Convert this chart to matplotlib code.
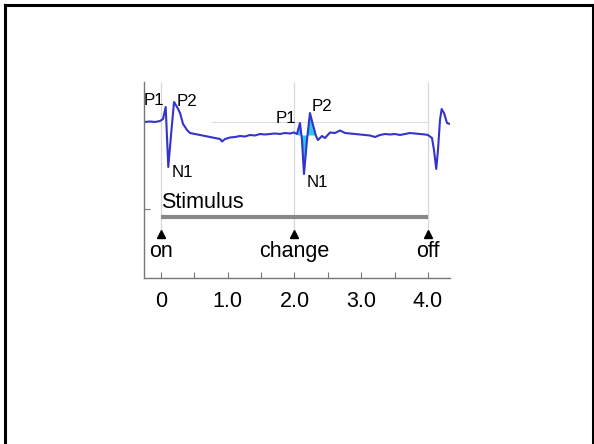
import matplotlib
matplotlib.use("Agg")
import matplotlib.pyplot as plt
import numpy as np
from matplotlib.lines import Line2D

plt.rcParams['font.family'] = ['Liberation Sans', 'DejaVu Sans']

# ---- data (time in s, amplitude in arbitrary units) ----
time_s = [-0.255, -0.165, -0.090, -0.015, 0.030, 0.070, 0.109, 0.150, 0.195, 0.240,
          0.285, 0.330, 0.390, 0.434, 0.509, 0.584, 0.659, 0.734, 0.809, 0.884,
          0.914, 0.959, 1.034, 1.109, 1.184, 1.258, 1.333, 1.408, 1.483, 1.558,
          1.633, 1.708, 1.783, 1.858, 1.933, 1.993, 2.037, 2.082, 2.112, 2.142,
          2.187, 2.232, 2.277, 2.322, 2.352, 2.412, 2.457, 2.532, 2.607, 2.682,
          2.757, 2.831, 2.906, 2.981, 3.056, 3.131, 3.206, 3.281, 3.356, 3.431,
          3.506, 3.581, 3.655, 3.730, 3.805, 3.880, 3.955, 4.000, 4.060, 4.090,
          4.124, 4.150, 4.180, 4.205, 4.240, 4.285, 4.330]
amplitude = [1.3, 1.35, 1.3, 1.4, 1.6, 2.8, -3.2, 0.0, 3.3, 2.8,
             2.2, 1.1, 0.5, 0.2, 0.1, 0.0, -0.1, -0.2, -0.3, -0.4,
             -0.65, -0.4, -0.25, -0.2, -0.1, -0.15, 0.0, -0.05, 0.1, 0.05,
             0.1, 0.15, 0.1, 0.2, 0.15, 0.25, 0.1, 1.2, -0.5, -3.9,
             -0.5, 2.2, 1.0, -0.1, -0.5, -0.1, -0.3, 0.25, 0.2, 0.45,
             0.2, 0.15, 0.1, 0.05, 0.0, -0.05, -0.2, 0.0, 0.1, 0.05,
             0.1, 0.0, 0.1, 0.2, 0.15, 0.1, 0.05, 0.0, -0.3, -1.5,
             -3.4, -1.5, 1.5, 2.6, 2.2, 1.2, 1.1]

event_times = [0.0, 2.0, 4.0]
event_labels = ['on', 'change', 'off']
stim_start, stim_end = 0.0, 4.0
xtick_vals = [0, 1, 2, 3, 4]
xtick_labels = ['0', '1.0', '2.0', '3.0', '4.0']
peak_labels = ['P1', 'P2', 'N1', 'P1', 'P2', 'N1']

t = np.array(time_s)
a = np.array(amplitude)

fig = plt.figure(figsize=(5.94, 4.44), dpi=100)
ax = fig.add_axes([144/594, 1-278/444, (450-144)/594, (278-82)/444])

# grid lines
ax.vlines(event_times, -9.5, 5.3, color='#d8d8d8', lw=0.9, zorder=0)
ax.hlines(1.3, 0.75, 4.0, color='#dddddd', lw=0.8, zorder=0)

# cyan fill for the change response
mask = (t >= 2.03) & (t <= 2.33)
ax.fill_between(t, a, 0, where=mask, interpolate=True, color='#29c8ee', lw=0, zorder=1)
ax.plot(t, a, color='#3434cc', lw=1.5, zorder=2, solid_joinstyle='round')

# peak labels
lab_pos = [(-0.255, 3.0), (0.240, 2.9), (0.165, -4.2), (1.723, 1.2), (2.262, 2.4), (2.187, -5.2)]
for s, (x, y) in zip(peak_labels, lab_pos):
    ax.text(x, y, s, fontsize=12.2, ha='left', va='baseline', color='black')

# stimulus bar
ax.plot([stim_start, stim_end], [-8.17, -8.17], color='#888888', lw=3, solid_capstyle='butt')
ax.text(0.0, -7.25, 'Stimulus', fontsize=15.5, ha='left', va='baseline')

# event markers
ax.plot(event_times, [-9.85]*len(event_times), marker='^', ls='none', color='black', ms=6)
for x, s in zip(event_times, event_labels):
    ax.text(x, -12.2, s, fontsize=15.5, ha='center', va='baseline')

ax.set_xlim(-0.255, 4.33)
ax.set_ylim(-14.3, 5.3)
for sp in ['top', 'right']:
    ax.spines[sp].set_visible(False)
for sp in ['left', 'bottom']:
    ax.spines[sp].set_color('#777777')
    ax.spines[sp].set_linewidth(1.0)

ax.set_xticks(xtick_vals)
ax.set_xticklabels(xtick_labels)
ax.set_xticks(np.arange(0.5, 4.5, 1.0), minor=True)
ax.tick_params(axis='x', which='both', direction='in', length=4.3, width=0.8,
               color='#777777', labelsize=15.5, pad=9)
ax.set_yticks([-7.4])
ax.set_yticklabels([])
ax.tick_params(axis='y', direction='in', length=4, width=0.8, color='#777777')

# figure border (left, top, right)
for xs, ys in [([5/594, 5/594], [0, 1-5/444]),
               ([5/594, 592.5/594], [1-5/444, 1-5/444]),
               ([592.5/594, 592.5/594], [0, 1-5/444])]:
    fig.add_artist(Line2D(xs, ys, transform=fig.transFigure, color='black', lw=2.2))

fig.savefig('out.png', dpi=100)
